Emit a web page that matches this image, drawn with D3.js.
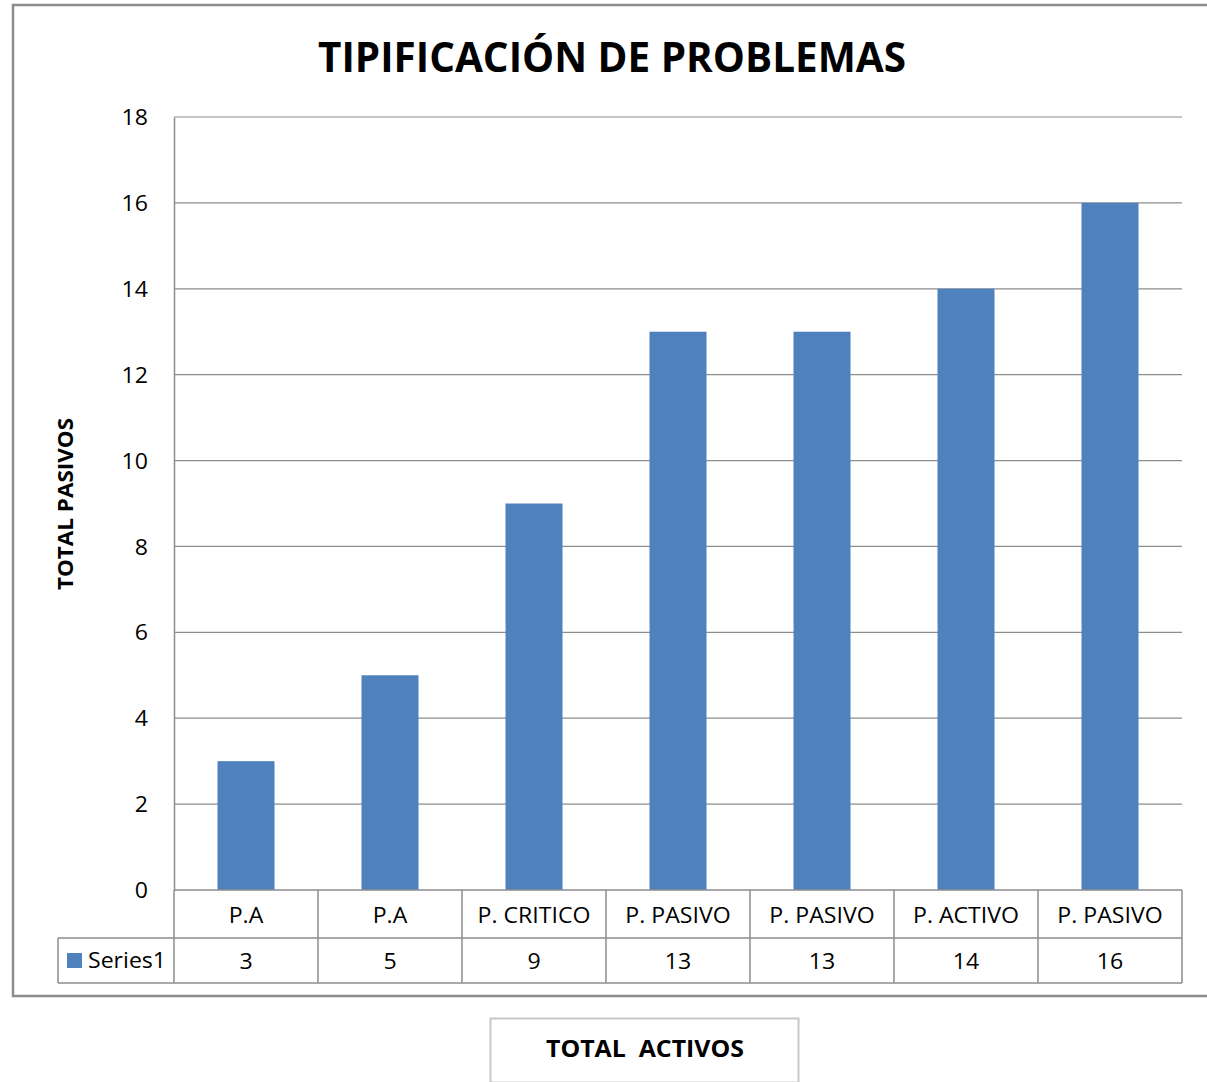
<!DOCTYPE html>
<html><head><meta charset="utf-8">
<script src="https://cdn.jsdelivr.net/npm/d3@7"></script>
<style>body{margin:0;background:#fff}svg{display:block}</style>
</head><body>
<script>
const categories = ["P.A","P.A","P. CRITICO","P. PASIVO","P. PASIVO","P. ACTIVO","P. PASIVO"];
const values = [3,5,9,13,13,14,16];
const yTicks = [0,2,4,6,8,10,12,14,16,18];
const seriesName = "Series1";
const title = "TIPIFICACIÓN DE PROBLEMAS";
const yTitle = "TOTAL PASIVOS";
const xTitle = "TOTAL  ACTIVOS";

const W=1207,H=1082;
const font="'Open Sans', sans-serif";
const SX=1.1, FS=21;
const svg=d3.select("body").append("svg").attr("width",W).attr("height",H);
const gray="#8c8c8c";
svg.append("rect").attr("x",13).attr("y",5).attr("width",W+10).attr("height",991)
  .attr("fill","none").attr("stroke",gray).attr("stroke-width",2.5);

const L=174,R=1182,T=117,B=890;
const x=d3.scaleBand().domain(d3.range(categories.length)).range([L,R]).paddingInner(0).paddingOuter(0);
const y=d3.scaleLinear().domain([0,18]).range([B,T]);

svg.append("g").selectAll("line").data(yTicks.filter(d=>d>0)).join("line")
  .attr("x1",L).attr("x2",R).attr("y1",d=>y(d)).attr("y2",d=>y(d))
  .attr("stroke",gray).attr("stroke-width",1.2);

const bw=57;
svg.append("g").selectAll("rect").data(values).join("rect")
  .attr("x",(d,i)=>x(i)+x.bandwidth()/2-bw/2).attr("width",bw)
  .attr("y",d=>y(d)).attr("height",d=>B-y(d)).attr("fill","#4F81BD");

// y axis
const yAxis=d3.axisLeft(y).tickValues(yTicks).tickSize(0).tickPadding(0);
const ga=svg.append("g").attr("transform",`translate(${L},0)`).call(yAxis);
ga.select(".domain").attr("stroke",gray).attr("stroke-width",1.5);
ga.selectAll(".tick text").attr("x",0).attr("dy","0.36em")
  .attr("transform",`translate(-26,0) scale(${SX},1)`)
  .attr("font-family",font).attr("font-size",FS).attr("fill","#000");

// y title
svg.append("text").attr("transform","translate(73,504) rotate(-90)")
  .attr("text-anchor","middle").attr("font-family",font).attr("font-weight","bold")
  .attr("font-size",22).attr("textLength",172).attr("lengthAdjust","spacingAndGlyphs").text(yTitle);

// title
svg.append("text").attr("x",612).attr("y",72).attr("text-anchor","middle")
  .attr("font-family",font).attr("font-weight","bold").attr("font-size",42)
  .attr("textLength",588).attr("lengthAdjust","spacingAndGlyphs").text(title);

// data table
const r1=B,r2=938,r3=983;
const tg=svg.append("g");
const lineStyle=s=>s.attr("stroke",gray).attr("stroke-width",1.5);
lineStyle(tg.append("line").attr("x1",L).attr("x2",R).attr("y1",r1).attr("y2",r1));
lineStyle(tg.append("line").attr("x1",58).attr("x2",R).attr("y1",r2).attr("y2",r2));
lineStyle(tg.append("line").attr("x1",58).attr("x2",R).attr("y1",r3).attr("y2",r3));
const xs=d3.range(categories.length+1).map(i=>i<categories.length?x(i):R);
tg.selectAll("line.v").data(xs).join("line").attr("class","v")
  .attr("x1",d=>d).attr("x2",d=>d).attr("y1",r1).attr("y2",r3).call(lineStyle);
lineStyle(tg.append("line").attr("x1",58).attr("x2",58).attr("y1",r2).attr("y2",r3));

tg.selectAll("text.c").data(categories).join("text").attr("class","c")
  .attr("transform",(d,i)=>`translate(${x(i)+x.bandwidth()/2},923) scale(${SX},1)`)
  .attr("text-anchor","middle").attr("font-family",font).attr("font-size",FS).text(d=>d);
tg.selectAll("text.v").data(values).join("text").attr("class","v")
  .attr("transform",(d,i)=>`translate(${x(i)+x.bandwidth()/2},969) scale(${SX},1)`)
  .attr("text-anchor","middle").attr("font-family",font).attr("font-size",FS).text(d=>d);
tg.append("rect").attr("x",67).attr("y",953).attr("width",15).attr("height",15).attr("fill","#4F81BD");
tg.append("text").attr("transform",`translate(88,968) scale(${SX},1)`)
  .attr("font-family",font).attr("font-size",FS).text(seriesName);

// x title box
svg.append("rect").attr("x",490.5).attr("y",1018.5).attr("width",308).attr("height",64)
  .attr("fill","#fff").attr("stroke","#c8c8c8").attr("stroke-width",2);
svg.append("text").attr("x",645).attr("y",1057).attr("text-anchor","middle")
  .attr("font-family",font).attr("font-weight","bold").attr("font-size",24)
  .attr("textLength",198).attr("lengthAdjust","spacingAndGlyphs")
  .attr("xml:space","preserve").style("white-space","pre").text(xTitle);
</script>
</body></html>
